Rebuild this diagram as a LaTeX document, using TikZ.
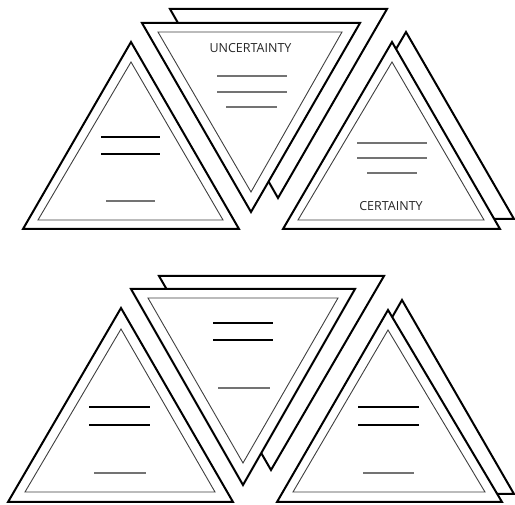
\documentclass[tikz,border=0pt]{standalone}
\usepackage{fontspec}
\setmainfont{Open Sans}
\begin{document}
\begin{tikzpicture}[x=1pt,y=-1pt,
  outer/.style={draw=black,line width=2pt,fill=white,line join=miter},
  inner/.style={draw=black!75,line width=0.9pt,line join=miter},
  thickbar/.style={draw=black,line width=2.4pt},
  thinbar/.style={draw=black!55,line width=1.2pt},
  lbl/.style={font=\fontsize{12.5}{14}\selectfont,text=black!85,inner sep=0pt}]
\useasboundingbox (0,0) rectangle (515,505);
% ---------- top group ----------
% left
\draw[outer] (131,42) -- (239,229) -- (23,229) -- cycle;
\draw[inner] (131,62) -- (223,220) -- (38,220) -- cycle;
\draw[thickbar] (101,137) -- (160,137);
\draw[thickbar] (101,154) -- (160,154);
\draw[thinbar] (106,201) -- (155,201);
% middle back
\draw[outer] (170,9) -- (387,9) -- (278,198) -- cycle;
% middle front
\draw[outer] (142,23) -- (360,23) -- (251,212) -- cycle;
\draw[inner] (158,32) -- (342,32) -- (251,192) -- cycle;
\node[lbl] (unc) at (250.5,48) {UNCERTAINTY};
\draw[thinbar] (217,76) -- (287,76);
\draw[thinbar] (217,92) -- (287,92);
\draw[thinbar] (226,107) -- (277,107);
% right back
\draw[outer] (406,32) -- (514,219) -- (297,219) -- cycle;
% right front
\draw[outer] (392,42) -- (500,229) -- (283,229) -- cycle;
\draw[inner] (392,62) -- (484,220) -- (298,220) -- cycle;
\draw[thinbar] (357,143) -- (427,143);
\draw[thinbar] (357,158) -- (427,158);
\draw[thinbar] (367,173) -- (417,173);
\node[lbl] (cert) at (391,206) {CERTAINTY};
% ---------- bottom group ----------
% left
\draw[outer] (121,308) -- (233,502) -- (8,502) -- cycle;
\draw[inner] (121,329) -- (215,492) -- (25,492) -- cycle;
\draw[thickbar] (89,407) -- (150,407);
\draw[thickbar] (89,425) -- (150,425);
\draw[thinbar] (94,473) -- (146,473);
% middle back
\draw[outer] (159,276) -- (384,276) -- (271,470) -- cycle;
% middle front
\draw[outer] (131,289) -- (355,289) -- (243,485) -- cycle;
\draw[inner] (148,298) -- (338,298) -- (243,463) -- cycle;
\draw[thickbar] (213,323) -- (273,323);
\draw[thickbar] (213,340) -- (273,340);
\draw[thinbar] (218,388) -- (270,388);
% right back
\draw[outer] (402,300) -- (514,494) -- (291,494) -- cycle;
% right front
\draw[outer] (388,310) -- (502,502) -- (277,502) -- cycle;
\draw[inner] (388,330) -- (485,492) -- (293,492) -- cycle;
\draw[thickbar] (358,407) -- (419,407);
\draw[thickbar] (358,425) -- (419,425);
\draw[thinbar] (363,473) -- (414,473);
\end{tikzpicture}
\end{document}
